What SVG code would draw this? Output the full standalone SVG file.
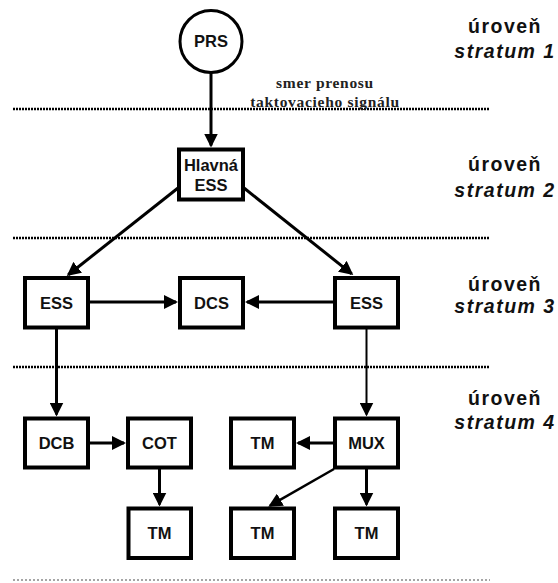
<svg xmlns="http://www.w3.org/2000/svg" width="558" height="583" viewBox="0 0 558 583">
  <defs>
    <marker id="arrow" viewBox="0 0 14 14" refX="12" refY="7" markerWidth="14" markerHeight="14" markerUnits="userSpaceOnUse" orient="auto">
      <path d="M0,0 L14,7 L0,14 z" fill="#000"/>
    </marker>
    <style>
      .box { fill: #fff; stroke: #000; stroke-width: 4; }
      .node-text { font-family: "Liberation Sans", Arial, sans-serif; font-weight: bold; font-size: 16.5px; fill: #111; text-anchor: middle; }
      .conn { stroke: #000; stroke-width: 3; fill: none; marker-end: url(#arrow); }
      .thin { stroke-width: 2; }
      .sep { stroke: #000; stroke-width: 2.5; stroke-dasharray: 2 1; }
      .sep-light { stroke: #888; stroke-width: 1.5; stroke-dasharray: 2 2; }
      .level { font-family: "Liberation Sans", Arial, sans-serif; font-weight: bold; font-size: 19.5px; letter-spacing: 1.5px; fill: #111; text-anchor: middle; }
      .level-it { font-style: italic; }
      .note { font-family: "Liberation Serif", "Times New Roman", serif; font-weight: bold; font-size: 15.5px; letter-spacing: 0.7px; fill: #222; text-anchor: middle; }
    </style>
  </defs>

  <rect width="558" height="583" fill="#fff"/>

  <!-- stratum separators -->
  <g id="separators">
    <line class="sep" x1="13" y1="109" x2="490" y2="109"/>
    <line class="sep" x1="13" y1="238" x2="490" y2="238"/>
    <line class="sep" x1="13" y1="367" x2="490" y2="367"/>
    <line class="sep-light" x1="13" y1="580" x2="490" y2="580"/>
  </g>

  <!-- direction note -->
  <g id="note">
    <text class="note" x="325" y="88">smer prenosu</text>
    <text class="note" x="325" y="107">taktovacieho signálu</text>
  </g>

  <!-- level labels -->
  <g id="levels">
    <text class="level" x="505" y="33">úroveň</text>
    <text class="level level-it" x="505" y="58">stratum 1</text>
    <text class="level" x="505" y="171">úroveň</text>
    <text class="level level-it" x="505" y="197">stratum 2</text>
    <text class="level" x="505" y="291">úroveň</text>
    <text class="level level-it" x="505" y="313">stratum 3</text>
    <text class="level" x="505" y="405">úroveň</text>
    <text class="level level-it" x="505" y="429">stratum 4</text>
  </g>

  <!-- connectors -->
  <g id="connectors">
    <line class="conn" x1="211" y1="73" x2="211" y2="145.5"/>
    <line class="conn" x1="178" y1="188" x2="68.3" y2="274.8"/>
    <line class="conn" x1="244" y1="188" x2="351.7" y2="273.8"/>
    <line class="conn" x1="90" y1="302" x2="176" y2="302"/>
    <line class="conn" x1="333" y1="302" x2="247" y2="302"/>
    <line class="conn" x1="56.5" y1="329" x2="56.5" y2="414.5"/>
    <line class="conn thin" x1="366.5" y1="329" x2="366.5" y2="414.5"/>
    <line class="conn" x1="90" y1="443" x2="124" y2="443"/>
    <line class="conn" x1="159.5" y1="469" x2="159.5" y2="504.5"/>
    <line class="conn" x1="333" y1="443" x2="298" y2="443"/>
    <line class="conn" x1="334" y1="469" x2="270" y2="505.7" style="stroke-width:2.5"/>
    <line class="conn" x1="366.5" y1="469" x2="366.5" y2="504.5"/>
  </g>

  <!-- nodes -->
  <g id="prs">
    <circle cx="211" cy="41.5" r="31" fill="#fff" stroke="#000" stroke-width="3"/>
    <text class="node-text" x="211" y="47">PRS</text>
  </g>
  <g id="hlavna-ess">
    <rect class="box" x="179" y="149.5" width="64" height="50"/>
    <text class="node-text" x="211" y="171">Hlavná</text>
    <text class="node-text" x="211" y="190.5">ESS</text>
  </g>
  <g id="ess-left">
    <rect class="box" x="25" y="278" width="63" height="49.5"/>
    <text class="node-text" x="56.5" y="308.5">ESS</text>
  </g>
  <g id="dcs">
    <rect class="box" x="180" y="278" width="63" height="49.5"/>
    <text class="node-text" x="211.5" y="308.5">DCS</text>
  </g>
  <g id="ess-right">
    <rect class="box" x="335" y="278" width="63" height="49.5"/>
    <text class="node-text" x="366.5" y="308.5">ESS</text>
  </g>
  <g id="dcb">
    <rect class="box" x="25" y="418.5" width="63" height="49"/>
    <text class="node-text" x="56.5" y="449">DCB</text>
  </g>
  <g id="cot">
    <rect class="box" x="128" y="418.5" width="63" height="49"/>
    <text class="node-text" x="159.5" y="449">COT</text>
  </g>
  <g id="tm-mid">
    <rect class="box" x="231" y="418.5" width="63" height="49"/>
    <text class="node-text" x="262.5" y="449">TM</text>
  </g>
  <g id="mux">
    <rect class="box" x="335" y="418.5" width="63" height="49"/>
    <text class="node-text" x="366.5" y="449">MUX</text>
  </g>
  <g id="tm-cot">
    <rect class="box" x="128.5" y="508.5" width="62.5" height="49.5"/>
    <text class="node-text" x="159.5" y="539">TM</text>
  </g>
  <g id="tm-left">
    <rect class="box" x="231" y="508.5" width="63" height="49.5"/>
    <text class="node-text" x="262.5" y="539">TM</text>
  </g>
  <g id="tm-right">
    <rect class="box" x="335" y="508.5" width="63" height="49.5"/>
    <text class="node-text" x="366.5" y="539">TM</text>
  </g>
</svg>
